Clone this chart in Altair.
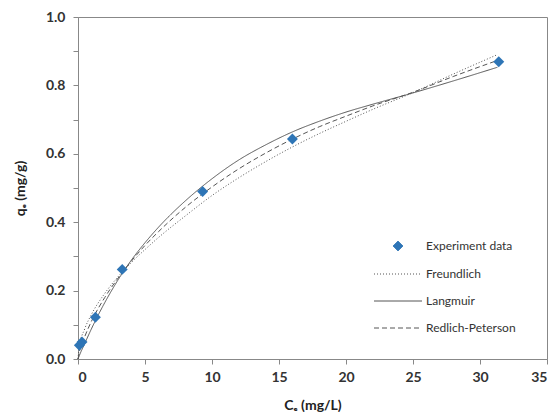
import altair as alt
import pandas as pd

series_names = ["Experiment data", "Freundlich", "Langmuir", "Redlich-Peterson"]

exp_c = [0.1, 0.3, 1.3, 3.3, 9.3, 16.0, 31.4]
exp_q = [0.040, 0.050, 0.122, 0.262, 0.490, 0.643, 0.869]

curve_c = [0, 0.1, 0.5, 1, 2, 3, 4, 5, 6, 8, 10, 12, 14, 16, 18, 20, 22, 25, 28, 31.3]
freundlich_q = [0, 0.036, 0.088, 0.130, 0.192, 0.241, 0.283, 0.320, 0.355, 0.418, 0.478,
                0.530, 0.577, 0.620, 0.659, 0.695, 0.730, 0.779, 0.833, 0.890]
langmuir_q = [0, 0.010, 0.045, 0.088, 0.165, 0.232, 0.290, 0.340, 0.385, 0.462, 0.527,
              0.582, 0.626, 0.664, 0.695, 0.722, 0.745, 0.778, 0.813, 0.853]
rp_q = [0, 0.020, 0.065, 0.110, 0.180, 0.237, 0.287, 0.332, 0.372, 0.443, 0.503,
        0.556, 0.602, 0.643, 0.679, 0.710, 0.740, 0.780, 0.826, 0.873]

x_ticks = [0, 5, 10, 15, 20, 25, 30, 35]
y_ticks = [0.0, 0.1, 0.2, 0.3, 0.4, 0.5, 0.6, 0.7, 0.8, 0.9, 1.0]

pts = pd.DataFrame({"c": exp_c, "q": exp_q, "series": series_names[0]})
rows = []
for name, vals in zip(series_names[1:], [freundlich_q, langmuir_q, rp_q]):
    for c, q in zip(curve_c, vals):
        rows.append({"c": c, "q": q, "series": name})
curves = pd.DataFrame(rows)

FONT = "Lato"
GRAY = "#555555"
BLUE = "#2E75B6"
LINE_PATH = "M-4.8,0H4.8"

legend = alt.Legend(
    title=None, orient="none", legendX=314, legendY=223, padding=0,
    rowPadding=15, labelOffset=22, labelFont=FONT, labelFontSize=12,
    labelColor="#333333", symbolStrokeWidth=1, symbolSize=100,
)

xenc = alt.X("c:Q", scale=alt.Scale(domain=[0, 35], nice=False),
             axis=alt.Axis(values=x_ticks, title="Cₑ (mg/L)", format="d"))
yenc = alt.Y("q:Q", scale=alt.Scale(domain=[0, 1], nice=False),
             axis=alt.Axis(values=y_ticks, title="qₑ (mg/g)",
                           labelExpr="round(datum.value*10) % 2 == 0 ? format(datum.value, '.1f') : ''"))

shape_scale = alt.Scale(domain=series_names, range=["diamond", LINE_PATH, LINE_PATH, LINE_PATH])
fill_scale = alt.Scale(domain=series_names, range=[BLUE, "transparent", "transparent", "transparent"])
stroke_scale = alt.Scale(domain=series_names, range=[BLUE, GRAY, GRAY, GRAY])
dash_scale = alt.Scale(domain=series_names, range=[[1, 0], [1, 2], [1, 0], [5, 3]])

lines = alt.Chart(curves).mark_line(strokeWidth=1, interpolate="monotone").encode(
    x=xenc, y=yenc,
    stroke=alt.Stroke("series:N", scale=stroke_scale, legend=legend),
    strokeDash=alt.StrokeDash("series:N", scale=dash_scale, legend=legend),
)

points = alt.Chart(pts).mark_point(filled=True, size=120, opacity=1).encode(
    x=xenc, y=yenc,
    shape=alt.Shape("series:N", scale=shape_scale, legend=legend),
    fill=alt.Fill("series:N", scale=fill_scale, legend=legend),
)

chart = alt.layer(lines, points).properties(
    width=469, height=342,
    autosize=alt.AutoSizeParams(type="none"),
    padding={"left": 70, "top": 9, "right": 2, "bottom": 53},
).configure_view(
    stroke="#888888", strokeWidth=1
).configure_axis(
    grid=False, domainColor="#888888", tickColor="#888888", tickSize=5,
    labelFont=FONT, labelFontSize=14, labelColor="#333333", labelFontWeight="bold",
    titleFont=FONT, titleFontSize=14, titleColor="#222222", titleFontWeight="bold",
).configure_axisX(
    labelPadding=6, titlePadding=14
).configure_axisY(
    labelPadding=8, titlePadding=18
)

chart.save("out.html", embed_options={"renderer": "svg", "actions": False})
